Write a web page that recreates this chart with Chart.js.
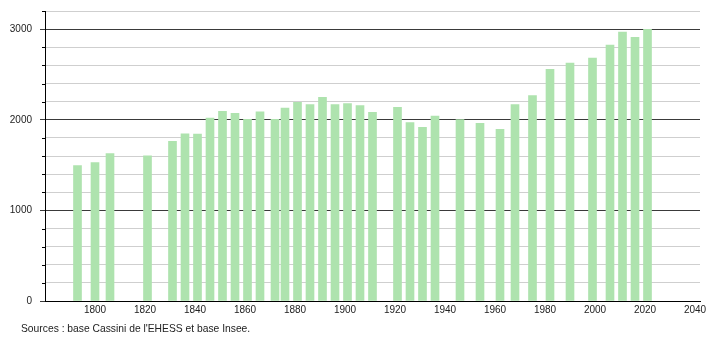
<!DOCTYPE html>
<html>
<head>
<meta charset="utf-8">
<script src="https://cdn.jsdelivr.net/npm/chart.js@4"></script>
<style>
  html, body { margin: 0; padding: 0; background: #fff; }
  #wrap { position: relative; width: 710px; height: 340px; }
  #note { position: absolute; left: 21px; top: 323px; font: 10.3px "Liberation Sans", Arial, sans-serif; color: #222; white-space: nowrap; }
</style>
</head>
<body>
<div id="wrap">
  <canvas id="c" width="710" height="340"></canvas>
  <div id="note">Sources : base Cassini de l'EHESS et base Insee.</div>
</div>
<script>
const years = [1793, 1800, 1806, 1821, 1831, 1836, 1841, 1846, 1851, 1856, 1861, 1866, 1872, 1876, 1881, 1886, 1891, 1896, 1901, 1906, 1911, 1921, 1926, 1931, 1936, 1946, 1954, 1962, 1968, 1975, 1982, 1990, 1999, 2006, 2011, 2016, 2021];
const population = [1495, 1528, 1628, 1602, 1761, 1846, 1843, 2019, 2093, 2071, 2004, 2088, 2004, 2130, 2193, 2167, 2248, 2167, 2178, 2156, 2082, 2137, 1968, 1916, 2041, 2001, 1960, 1894, 2167, 2267, 2555, 2625, 2680, 2824, 2968, 2909, 2998];
const xTickLabels = [1800, 1820, 1840, 1860, 1880, 1900, 1920, 1940, 1960, 1980, 2000, 2020, 2040];
const yTickLabels = [0, 1000, 2000, 3000];

const FONT = { family: '"Liberation Sans", Arial, sans-serif', size: 10 };

const minorTicks = {
  id: 'minorTicks',
  afterDraw(chart) {
    const y = chart.scales.y;
    const ctx = chart.ctx;
    ctx.save();
    ctx.strokeStyle = '#000';
    ctx.lineWidth = 1;
    for (let v = 0; v <= 3200; v += 200) {
      if (v % 1000 === 0) continue;
      const py = Math.round(y.getPixelForValue(v)) + 0.5;
      ctx.beginPath();
      ctx.moveTo(y.right - 3, py);
      ctx.lineTo(y.right, py);
      ctx.stroke();
    }
    ctx.restore();
  }
};

new Chart(document.getElementById('c'), {
  type: 'bar',
  data: {
    datasets: [{
      data: years.map((yr, i) => ({ x: yr, y: population[i] })),
      backgroundColor: 'rgb(174,227,174)',
      borderWidth: 0,
      barThickness: 8
    }]
  },
  options: {
    responsive: false,
    animation: false,
    layout: { padding: { left: 0, right: 10, top: 11, bottom: 19 } },
    plugins: { legend: { display: false }, tooltip: { enabled: false } },
    scales: {
      x: {
        type: 'linear',
        offset: false,
        min: 1780,
        max: 2042,
        afterFit: s => { s.height = 20; s.paddingLeft = 0; s.paddingRight = 0; },
        afterBuildTicks: s => { s.ticks = xTickLabels.map(v => ({ value: v })); },
        ticks: {
          autoSkip: false,
          maxRotation: 0,
          padding: 3,
          color: '#222',
          font: FONT,
          callback: v => String(v)
        },
        grid: { color: 'transparent', drawTicks: false, offset: false },
        border: { display: true, color: '#000', width: 1 }
      },
      y: {
        min: 0,
        max: 3200,
        afterFit: s => { s.width = 45; s.paddingTop = 0; s.paddingBottom = 0; },
        afterBuildTicks: s => {
          const t = [];
          for (let v = 0; v <= 3200; v += 200) t.push({ value: v });
          s.ticks = t;
        },
        ticks: {
          autoSkip: false,
          padding: 8,
          color: '#222',
          font: FONT,
          callback: v => (yTickLabels.includes(v) ? String(v) : '')
        },
        grid: {
          tickLength: 5,
          color: ctx => (ctx.tick && ctx.tick.value % 1000 === 0 ? '#3a3a3a' : '#cfcfcf'),
          tickColor: ctx => (ctx.tick && ctx.tick.value % 1000 === 0 ? '#3a3a3a' : 'transparent')
        },
        border: { display: true, color: '#000', width: 1 }
      }
    }
  },
  plugins: [minorTicks]
});
</script>
</body>
</html>
